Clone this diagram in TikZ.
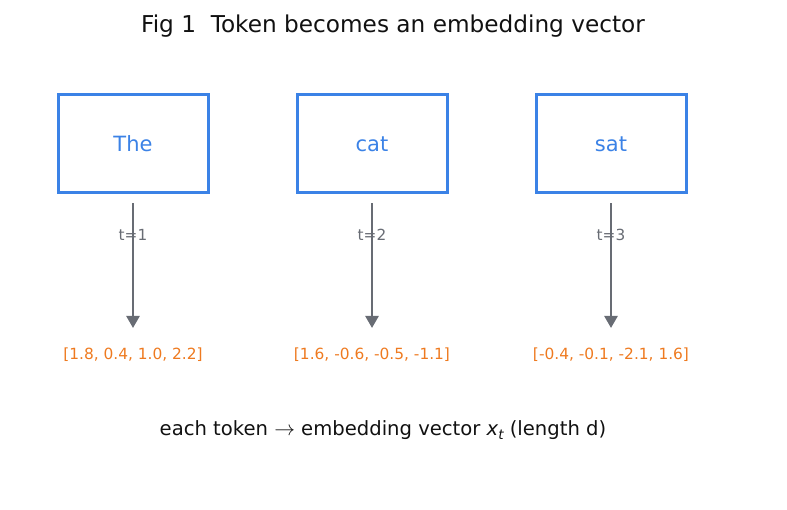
\documentclass[tikz,border=0pt]{standalone}
\usepackage{fontspec}
\setmainfont{DejaVu Sans}
\usetikzlibrary{arrows.meta}
\definecolor{tokblue}{RGB}{59,130,230}
\definecolor{arrgray}{RGB}{104,108,116}
\definecolor{vecorange}{RGB}{238,122,32}
\definecolor{titleblack}{RGB}{17,17,17}

\begin{document}
\begin{tikzpicture}
  [x=1pt,y=-1pt,
   token/.style={draw=tokblue,line width=3pt,minimum width=150pt,minimum height=98pt,
                 text=tokblue,font=\fontsize{21}{25}\selectfont},
   vec/.style={text=vecorange,font=\fontsize{15.4}{18}\selectfont},
   tlabel/.style={text=arrgray,font=\fontsize{15.3}{18}\selectfont,inner sep=0pt},
   arr/.style={draw=arrgray,line width=2.5pt,-{Triangle[length=12pt,width=13pt]}}]
  \useasboundingbox (0,0) rectangle (787,510);
  \node[text=titleblack,font=\fontsize{23.2}{27}\selectfont] (title) at (393,26) {Fig 1\ \ Token becomes an embedding vector};

  \node[token] (w1) at (133,144) {The};
  \node[token] (w2) at (372,144) {cat};
  \node[token] (w3) at (611,144) {sat};

  \node[vec] (v1) at (133,355) {[1.8, 0.4, 1.0, 2.2]};
  \node[vec] (v2) at (372,355) {[1.6, -0.6, -0.5, -1.1]};
  \node[vec] (v3) at (611,355) {[-0.4, -0.1, -2.1, 1.6]};

\foreach \i in {1,2,3}
    \draw[arr] ([yshift=-9pt]w\i.south) -- ([yshift=27pt]v\i.center);
  \node[tlabel] (t1) at (133,235) {t=1};
  \node[tlabel] (t2) at (372,235) {t=2};
  \node[tlabel] (t3) at (611,235) {t=3};

  \node[text=titleblack,font=\fontsize{19.6}{23}\selectfont] (note) at (383,430)
    {each token $\rightarrow$ embedding vector {\itshape x}\raisebox{-0.35ex}{\fontsize{13.5}{16}\selectfont\itshape t} (length d)};
\end{tikzpicture}
\end{document}
